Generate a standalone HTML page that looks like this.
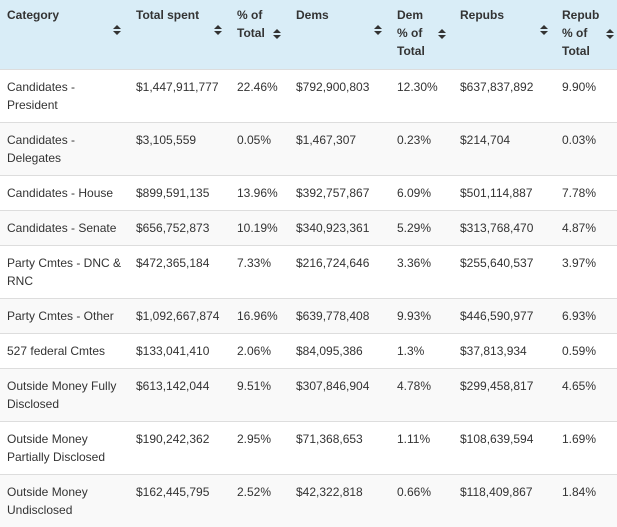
<!DOCTYPE html>
<html><head><meta charset="utf-8"><style>
body{margin:0;width:617px;height:521px;overflow:hidden;background:#fff;font-family:"Liberation Sans",sans-serif;font-size:12px;color:#333}
table{border-collapse:collapse;table-layout:fixed;width:617px}
th{background:#d9edf7;text-align:left;vertical-align:top;font-weight:bold;padding:6px 7px 9px 7px;line-height:18px;height:54px;position:relative}
td{padding:8px 7px 8px 7px;line-height:18px;vertical-align:top;border-top:1px solid #ddd}
tr.alt td{background:#f9f9f9}
.s{position:absolute;width:8px;height:10px}
</style></head><body>
<table>
<colgroup><col style="width:129px"><col style="width:101px"><col style="width:59px"><col style="width:101px"><col style="width:63px"><col style="width:102px"><col style="width:62px"></colgroup>
<thead><tr>
<th>Category<svg class="s" style="left:113px;top:25px" viewBox="0 0 8 10"><path d="M0 4L4 0L8 4Z M0 6L4 10L8 6Z" fill="#333"/></svg></th>
<th>Total spent<svg class="s" style="left:85px;top:25px" viewBox="0 0 8 10"><path d="M0 4L4 0L8 4Z M0 6L4 10L8 6Z" fill="#333"/></svg></th>
<th>% of<br>Total<svg class="s" style="left:43px;top:29px" viewBox="0 0 8 10"><path d="M0 4L4 0L8 4Z M0 6L4 10L8 6Z" fill="#333"/></svg></th>
<th>Dems<svg class="s" style="left:85px;top:25px" viewBox="0 0 8 10"><path d="M0 4L4 0L8 4Z M0 6L4 10L8 6Z" fill="#333"/></svg></th>
<th>Dem<br>% of<br>Total<svg class="s" style="left:48px;top:29px" viewBox="0 0 8 10"><path d="M0 4L4 0L8 4Z M0 6L4 10L8 6Z" fill="#333"/></svg></th>
<th>Repubs<svg class="s" style="left:87px;top:25px" viewBox="0 0 8 10"><path d="M0 4L4 0L8 4Z M0 6L4 10L8 6Z" fill="#333"/></svg></th>
<th>Repub<br>% of<br>Total<svg class="s" style="left:51px;top:29px" viewBox="0 0 8 10"><path d="M0 4L4 0L8 4Z M0 6L4 10L8 6Z" fill="#333"/></svg></th>
</tr></thead>
<tbody>
<tr><td>Candidates - President</td><td>$1,447,911,777</td><td>22.46%</td><td>$792,900,803</td><td>12.30%</td><td>$637,837,892</td><td>9.90%</td></tr>
<tr class="alt"><td>Candidates - Delegates</td><td>$3,105,559</td><td>0.05%</td><td>$1,467,307</td><td>0.23%</td><td>$214,704</td><td>0.03%</td></tr>
<tr><td>Candidates - House</td><td>$899,591,135</td><td>13.96%</td><td>$392,757,867</td><td>6.09%</td><td>$501,114,887</td><td>7.78%</td></tr>
<tr class="alt"><td>Candidates - Senate</td><td>$656,752,873</td><td>10.19%</td><td>$340,923,361</td><td>5.29%</td><td>$313,768,470</td><td>4.87%</td></tr>
<tr><td>Party Cmtes - DNC &amp; RNC</td><td>$472,365,184</td><td>7.33%</td><td>$216,724,646</td><td>3.36%</td><td>$255,640,537</td><td>3.97%</td></tr>
<tr class="alt"><td>Party Cmtes - Other</td><td>$1,092,667,874</td><td>16.96%</td><td>$639,778,408</td><td>9.93%</td><td>$446,590,977</td><td>6.93%</td></tr>
<tr><td>527 federal Cmtes</td><td>$133,041,410</td><td>2.06%</td><td>$84,095,386</td><td>1.3%</td><td>$37,813,934</td><td>0.59%</td></tr>
<tr class="alt"><td>Outside Money Fully Disclosed</td><td>$613,142,044</td><td>9.51%</td><td>$307,846,904</td><td>4.78%</td><td>$299,458,817</td><td>4.65%</td></tr>
<tr><td>Outside Money Partially Disclosed</td><td>$190,242,362</td><td>2.95%</td><td>$71,368,653</td><td>1.11%</td><td>$108,639,594</td><td>1.69%</td></tr>
<tr class="alt"><td>Outside Money Undisclosed</td><td>$162,445,795</td><td>2.52%</td><td>$42,322,818</td><td>0.66%</td><td>$118,409,867</td><td>1.84%</td></tr>
</tbody></table>
</body></html>
